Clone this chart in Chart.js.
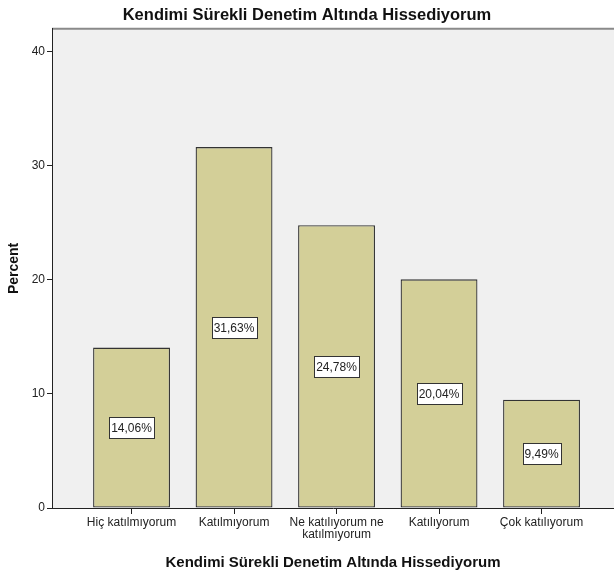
<!DOCTYPE html>
<html>
<head>
<meta charset="utf-8">
<script src="https://cdn.jsdelivr.net/npm/chart.js@4/dist/chart.umd.min.js"></script>
<style>
  html, body { margin: 0; padding: 0; background: #ffffff; }
  #wrap { width: 614px; height: 576px; }
</style>
</head>
<body>
<div id="wrap"><canvas id="c" width="614" height="576"></canvas></div>
<script>
// Response categories (x axis) and their percentages
const categories = [
  ["Hiç katılmıyorum"],
  ["Katılmıyorum"],
  ["Ne katılıyorum ne", "katılmıyorum"],
  ["Katılıyorum"],
  ["Çok katılıyorum"]
];
const percents = [14.06, 31.63, 24.78, 20.04, 9.49];
const yTicks = [0, 10, 20, 30, 40];
const chartTitle = "Kendimi Sürekli Denetim Altında Hissediyorum";
const yTitle = "Percent";

const FONT = "'Liberation Sans', Arial, sans-serif";

// Grey plot background with a frame line along the top
const plotBackground = {
  id: 'plotBackground',
  beforeDraw(chart) {
    const { ctx, chartArea: a } = chart;
    ctx.save();
    ctx.fillStyle = '#f0f0f0';
    ctx.fillRect(a.left, a.top, a.right - a.left, a.bottom - a.top);
    ctx.strokeStyle = '#8a8a8a';
    ctx.lineWidth = 2;
    ctx.beginPath();
    ctx.moveTo(a.left, a.top);
    ctx.lineTo(a.right, a.top);
    ctx.stroke();
    ctx.restore();
  }
};

// Boxed percentage labels at the vertical middle of each bar
const boxedLabels = {
  id: 'boxedLabels',
  afterDatasetsDraw(chart) {
    const { ctx } = chart;
    const meta = chart.getDatasetMeta(0);
    ctx.save();
    ctx.font = "12px " + FONT;
    ctx.textAlign = 'center';
    ctx.textBaseline = 'middle';
    meta.data.forEach((bar, i) => {
      const v = percents[i];
      const txt = v.toFixed(2).replace('.', ',') + '%';
      const cy = (bar.y + bar.base) / 2;
      const w = Math.round(ctx.measureText(txt).width + 4);
      const h = 21;
      const x0 = Math.round(bar.x - w / 2) + 0.5;
      const y0 = Math.round(cy - h / 2) + 0.5;
      ctx.fillStyle = '#ffffff';
      ctx.fillRect(x0, y0, w, h);
      ctx.strokeStyle = '#333333';
      ctx.lineWidth = 1;
      ctx.strokeRect(x0, y0, w, h);
      ctx.fillStyle = '#222222';
      ctx.fillText(txt, bar.x, cy + 1);
    });
    ctx.restore();
  }
};

new Chart(document.getElementById('c'), {
  type: 'bar',
  data: {
    datasets: [{
      data: percents.map((v, i) => ({ x: i, y: v })),
      backgroundColor: '#d3cf98',
      borderColor: '#333333',
      borderWidth: 1.3,
      borderSkipped: false,
      categoryPercentage: 1,
      barPercentage: 0.75
    }]
  },
  options: {
    responsive: false,
    animation: false,
    layout: { padding: { left: 0, right: 0, top: 0, bottom: 0 } },
    plugins: {
      legend: { display: false },
      tooltip: { enabled: false },
      title: {
        display: true,
        text: chartTitle,
        color: '#111111',
        font: { family: FONT, size: 16.5, weight: 'bold' },
        padding: { top: 6, bottom: 3 }
      }
    },
    scales: {
      x: {
        type: 'linear',
        offset: false,
        min: -0.776,
        max: 4.707,
        afterBuildTicks(scale) {
          scale.ticks = categories.map((_, i) => ({ value: i }));
        },
        afterFit(scale) { scale.height = 68; },
        ticks: {
          autoSkip: false,
          maxRotation: 0,
          padding: 2,
          color: '#222222',
          font: { family: FONT, size: 12, lineHeight: 1.05 },
          callback: (v) => categories[v] || ''
        },
        grid: { offset: false, drawOnChartArea: false, tickLength: 6, tickColor: '#222222' },
        border: { color: '#222222', width: 1 },
        title: {
          display: true,
          text: chartTitle,
          color: '#111111',
          font: { family: FONT, size: 15, weight: 'bold' },
          padding: { top: 6 }
        }
      },
      y: {
        min: 0,
        max: 42,
        afterBuildTicks(scale) {
          scale.ticks = yTicks.map(v => ({ value: v }));
        },
        afterFit(scale) { scale.width = 52; },
        ticks: {
          padding: 2,
          color: '#222222',
          font: { family: FONT, size: 12 }
        },
        grid: { drawOnChartArea: false, tickLength: 5, tickColor: '#222222' },
        border: { color: '#222222', width: 1 },
        title: {
          display: true,
          text: yTitle,
          color: '#111111',
          font: { family: FONT, size: 14, weight: 'bold' },
          padding: { top: 6, bottom: 0 }
        }
      }
    }
  },
  plugins: [plotBackground, boxedLabels]
});
</script>
</body>
</html>
